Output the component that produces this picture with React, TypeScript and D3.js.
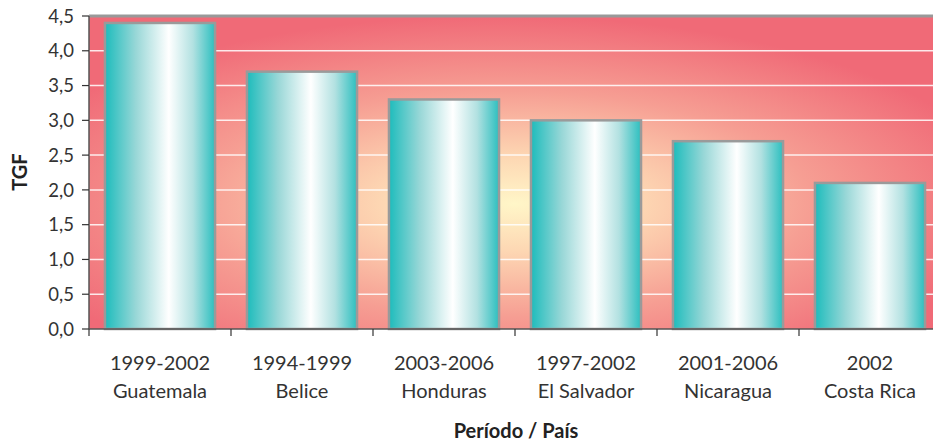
import React from "react";
import * as d3 from "d3";

const periods = ["1999-2002", "1994-1999", "2003-2006", "1997-2002", "2001-2006", "2002"];
const countries = ["Guatemala", "Belice", "Honduras", "El Salvador", "Nicaragua", "Costa Rica"];
const tgf = [4.4, 3.7, 3.3, 3.0, 2.7, 2.1];
const yTicks = [0, 0.5, 1, 1.5, 2, 2.5, 3, 3.5, 4, 4.5];

const W = 933;
const H = 444;
const left = 89;
const right = 941;
const top = 16;
const bottom = 329;

export default function App() {
  const x = d3.scaleBand<number>().domain(d3.range(tgf.length)).range([left, right]).paddingInner(0.225).paddingOuter(0.1125);
  const xb = d3.scaleBand<number>().domain(d3.range(tgf.length)).range([left, right]);
  const y = d3.scaleLinear().domain([0, 4.5]).range([bottom, top]);
  const fmt = (v: number) => v.toFixed(1).replace(".", ",");
  const font = "Lato, 'Open Sans', sans-serif";
  return (
    <svg width={W} height={H} style={{ position: "absolute", left: 0, top: 0 }}>
      <defs>
        <radialGradient id="bg" cx="0.48" cy="0.6" r="0.6" fx="0.5" fy="0.6">
          <stop offset="0" stopColor="#fff6c8" />
          <stop offset="0.25" stopColor="#fdd7b3" />
          <stop offset="0.6" stopColor="#f69e93" />
          <stop offset="1" stopColor="#f06a77" />
        </radialGradient>
        <linearGradient id="bar" x1="0" x2="1" y1="0" y2="0">
          <stop offset="0" stopColor="#1dbcbc" />
          <stop offset="0.28" stopColor="#98d7d7" />
          <stop offset="0.58" stopColor="#ffffff" />
          <stop offset="0.8" stopColor="#b2e1e1" />
          <stop offset="1" stopColor="#2cbfbf" />
        </linearGradient>
      </defs>
      <rect x={left} y={top} width={right - left} height={bottom - top} fill="url(#bg)" />
      {yTicks.slice(1, -1).map((t) => (
        <line key={t} x1={left} x2={right} y1={y(t)} y2={y(t)} stroke="#ffffff" strokeOpacity={0.85} strokeWidth={1.5} />
      ))}
      <line x1={left} x2={right} y1={top} y2={top} stroke="#999" strokeWidth={3} />
      {tgf.map((v, i) => (
        <rect
          key={i}
          x={x(i)!}
          y={y(v)}
          width={x.bandwidth()}
          height={bottom - y(v)}
          fill="url(#bar)"
          stroke="#9a9a9a"
          strokeWidth={2.5}
        />
      ))}
      <line x1={left} x2={left} y1={top} y2={bottom} stroke="#555" strokeWidth={1.5} />
      <line x1={left} x2={right} y1={bottom} y2={bottom} stroke="#555" strokeWidth={1.5} />
      {yTicks.map((t) => (
        <g key={t}>
          <line x1={left - 7} x2={left} y1={y(t)} y2={y(t)} stroke="#333" strokeWidth={1.2} />
          <text x={left - 15} y={y(t)} dy="0.36em" textAnchor="end" fontFamily={font} fontSize={18.5} fill="#333">
            {fmt(t)}
          </text>
        </g>
      ))}
      {d3.range(tgf.length + 1).map((i) => {
        const xx = i < tgf.length ? xb(i)! : right;
        return <line key={i} x1={xx} x2={xx} y1={bottom} y2={bottom + 7} stroke="#333" strokeWidth={1.2} />;
      })}
      {tgf.map((_, i) => {
        const cx = xb(i)! + xb.bandwidth() / 2;
        return (
          <text key={i} x={cx} textAnchor="middle" fontFamily={font} fontSize={20} fill="#333">
            <tspan x={cx} y={370}>{periods[i]}</tspan>
            <tspan x={cx} y={398}>{countries[i]}</tspan>
          </text>
        );
      })}
      <text x={516} y={438} textAnchor="middle" fontFamily={font} fontSize={20} fontWeight="bold" fill="#222">
        Período / País
      </text>
      <text transform="translate(27,172) rotate(-90)" textAnchor="middle" fontFamily={font} fontSize={20} fontWeight="bold" fill="#222">
        TGF
      </text>
    </svg>
  );
}
